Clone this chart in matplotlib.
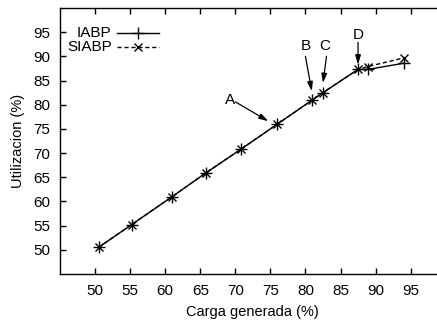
import matplotlib
matplotlib.use("Agg")
import matplotlib.pyplot as plt
from matplotlib.lines import Line2D

plt.rcParams['font.family'] = ['Liberation Sans', 'DejaVu Sans']
FS = 11
plt.rcParams['font.size'] = FS

# Measured load vs. utilization
carga = [50.5, 55.2, 60.9, 65.8, 70.8, 76.0, 81.0, 82.5, 87.5, 88.9, 94.1]
iabp = [50.5, 55.2, 60.9, 65.9, 70.8, 76.0, 81.0, 82.5, 87.3, 87.3, 88.6]
siabp = [50.5, 55.2, 60.9, 65.9, 70.8, 76.0, 81.0, 82.5, 87.3, 87.9, 89.7]

xticks = [50, 55, 60, 65, 70, 75, 80, 85, 90, 95]
yticks = [50, 55, 60, 65, 70, 75, 80, 85, 90, 95]

# Annotation labels: (text, text position, arrow start, arrow end)
notes = [
    ("A", (69.2, 81.0), (70.0, 80.6), (74.7, 76.6)),
    ("B", (80.1, 92.2), (80.0, 90.0), (80.9, 82.8)),
    ("C", (82.8, 92.2), (83.0, 90.0), (82.5, 84.5)),
    ("D", (87.5, 94.5), (87.5, 92.9), (87.5, 88.3)),
]

W, H = 437, 322
fig = plt.figure(figsize=(W / 100, H / 100), dpi=100)
ax = fig.add_axes([60 / W, 48 / H, 385.7 / W, 266 / H])

ax.plot(carga, iabp, color='black', lw=1.0, marker='+', ms=8, mew=1.0)
ax.plot(carga, siabp, color='black', lw=1.0, ls=(0, (3, 2)), marker='x',
        ms=6, mew=1.0)

ax.set_xlim(45, 100)
ax.set_ylim(45, 100)
ax.set_xticks(xticks)
ax.set_yticks(yticks)
ax.tick_params(direction='in', length=4, width=1, top=True, right=True,
               labelsize=FS, pad=7)
for s in ax.spines.values():
    s.set_linewidth(1.0)

ax.set_xlabel("Carga generada (%)", fontsize=10.5, labelpad=5)
ax.set_ylabel("Utilizacion (%)", fontsize=10.5, labelpad=6)

for label, tpos, start, end in notes:
    ax.text(tpos[0], tpos[1], label, ha='center', va='center', fontsize=FS)
    ax.annotate('', xy=end, xytext=start,
                arrowprops=dict(arrowstyle='-|>,head_length=0.5,head_width=0.15',
                                color='black', lw=0.9, shrinkA=0, shrinkB=0))

# Key in the upper-left corner
key = [("IABP", '-', '+', 8, 0.905), ("SIABP", (0, (3, 2)), 'x', 6, 0.855)]
for name, ls, mk, ms, yk in key:
    ax.text(0.134, yk, name, transform=ax.transAxes, ha='right', va='center',
            fontsize=FS)
    ax.add_line(Line2D([0.147, 0.257], [yk, yk], transform=ax.transAxes,
                       color='black', lw=1.0, ls=ls, clip_on=False))
    ax.add_line(Line2D([0.201], [yk], transform=ax.transAxes, color='black',
                       marker=mk, ms=ms, mew=1.0, ls='none', clip_on=False))

fig.savefig("out.png", dpi=100)
